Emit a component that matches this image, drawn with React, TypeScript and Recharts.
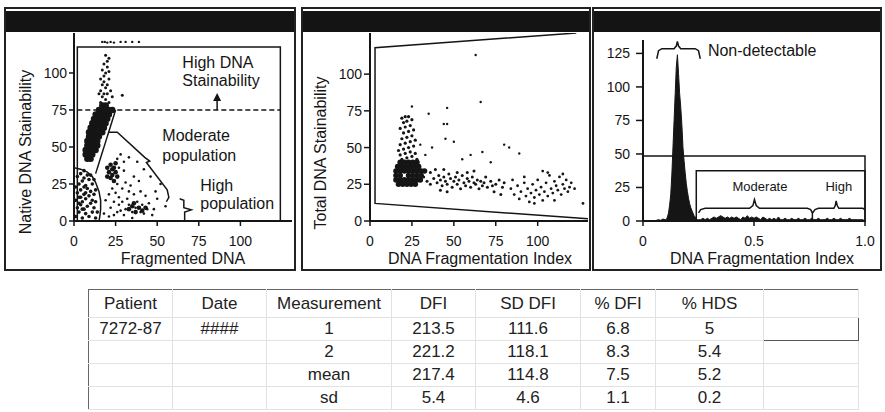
import React from 'react';
import {
  ComposedChart,
  Scatter,
  Line,
  Area,
  XAxis,
  YAxis,
  ReferenceArea,
  ReferenceLine,
  ReferenceDot,
  Label,
} from 'recharts';

type Pt = [number, number];
const toXY = (pts: Pt[]) => pts.map(([x, y]) => ({ x, y }));

const INK = '#151515';
const FONT = '"Liberation Sans", Arial, Helvetica, sans-serif';

// ---- panel 1: native vs fragmented DNA ----
const nativeCore: Pt[] = [
  [8, 42], [10, 42],
  [7, 45], [9, 45], [11, 45],
  [7, 48], [9, 48], [11, 48], [13, 48],
  [8, 51], [10, 51], [12, 51], [14, 51],
  [8, 54], [10, 54], [12, 54], [14, 54],
  [9, 57], [11, 57], [13, 57], [15, 57],
  [9, 60], [11, 60], [13, 60], [15, 60], [17, 60],
  [10, 63], [12, 63], [14, 63], [16, 63], [18, 63],
  [11, 66], [13, 66], [15, 66], [17, 66], [19, 66],
  [12, 69], [14, 69], [16, 69], [18, 69], [20, 69],
  [13, 72], [15, 72], [17, 72], [19, 72], [21, 72],
  [15, 75], [17, 75], [19, 75], [21, 75], [23, 75],
  [17, 78], [19, 78],
];
const nativeColumn: Pt[] = [
  [19, 112], [21, 110], [20, 108], [18, 106], [20, 104], [17, 102], [19, 100], [18, 98],
  [16, 96], [18, 94], [20, 92], [17, 92], [19, 90], [16, 88], [18, 86], [20, 86],
  [17, 84], [19, 82], [16, 80], [21, 96], [22, 88], [21, 101], [29, 85], [21, 80],
  [23, 84], [15, 86], [20, 78],
];
const nativeTop: Pt[] = [
  [17, 121], [18.5, 121], [20, 120.5], [22, 121], [24, 120.5], [28, 121], [31, 121], [35, 121], [39, 121],
];
const nativeLowLeft: Pt[] = [
  [1, 3], [3, 6], [5, 2], [7, 5], [9, 3], [11, 6], [13, 2], [2, 9], [4, 11], [6, 8], [8, 10],
  [10, 12], [12, 9], [1, 14], [3, 16], [5, 13], [7, 15], [9, 17], [11, 14], [2, 19], [4, 21],
  [6, 18], [8, 22], [10, 20], [12, 18], [3, 25], [5, 27], [7, 24], [9, 28], [11, 25], [2, 30],
  [4, 32], [6, 29], [8, 31], [13, 13], [14, 6], [1, 23], [6, 34], [10, 31], [12, 28], [3, 12],
  [5, 8], [7, 19], [13, 21], [4, 16], [6, 23],
];
const nativeMidDense: Pt[] = [
  [20, 36], [22, 38], [24, 36], [21, 33], [23, 31], [25, 33], [22, 29], [24, 27], [26, 30],
  [20, 30], [23, 35], [25, 39], [33, 8], [35, 10], [37, 6], [39, 9], [41, 7], [36, 12], [43, 9],
];
const nativeMid: Pt[] = [
  [27, 36], [26, 25], [23, 22], [25, 19], [21, 18], [27, 16], [29, 22], [31, 26], [33, 20],
  [24, 13], [27, 11], [22, 9], [29, 13], [31, 8], [33, 11], [35, 6], [30, 4], [26, 6], [24, 4],
  [28, 7], [37, 9], [40, 6], [42, 5], [44, 8], [38, 13], [34, 24], [36, 30], [30, 34], [40, 20],
  [45, 12], [48, 8], [50, 15], [52, 25], [38, 40], [33, 43], [28, 45], [46, 30], [42, 35],
  [55, 10], [19, 14], [18, 5], [21, 3], [35, 2], [47, 4], [43, 17], [39, 27], [32, 15], [36, 18],
  [41, 11], [26, 42], [30, 40], [49, 20],
];
const gateLowLeft: Pt[] = [
  [0, 36], [4, 35], [8, 33], [11, 30], [13, 26], [15, 20], [16, 14], [16, 8], [15.5, 3], [15, 0],
];
const gateDiagonal: Pt[] = [[25, 75], [13, 32]];
const braceModerate1: Pt[] = [
  [20.5, 60], [26, 60], [42.5, 43], [45.5, 40.5], [43.5, 39.5], [56, 21], [57, 16], [55.5, 13],
];
const braceHigh1: Pt[] = [[63.5, 15], [66, 14], [66, 9], [70.5, 7.5], [66.5, 6], [66.5, 0]];

// ---- panel 2: total stainability vs DFI ----
const totalCore: Pt[] = [
  [17, 25], [19.5, 25], [22, 25], [24.5, 25], [27, 25],
  [15.5, 28], [18, 28], [20.5, 28], [23, 28], [25.5, 28], [28, 28], [30, 28],
  [15.5, 31], [18, 31], [23, 31], [25.5, 31], [28, 31], [30.5, 31],
  [15.5, 34], [18, 34], [20.5, 34], [23, 34], [25.5, 34], [28, 34], [30.5, 34], [32.5, 34],
  [16.5, 37], [19, 37], [21.5, 37], [24, 37], [26.5, 37], [29, 37],
  [18, 40], [20.5, 40], [23, 40], [25.5, 40], [28, 40],
];
const totalColumn: Pt[] = [
  [19, 42], [22, 43], [25, 44], [18, 45], [21, 46], [24, 47], [27, 46], [20, 49], [23, 50],
  [26, 51], [18, 52], [21, 53], [24, 54], [19, 56], [22, 57], [25, 58], [20, 60], [23, 61],
  [26, 62], [18, 63], [21, 64], [24, 65], [20, 67], [22, 68], [25, 69], [21, 71], [23, 71],
  [19, 70], [27, 55], [17, 48], [28, 42],
];
const totalTail: Pt[] = [
  [32, 30], [34, 27], [36, 33], [38, 29], [40, 26], [41, 31], [42, 28], [43, 24], [44, 30],
  [45, 27], [46, 25], [47, 32], [48, 29], [49, 23], [50, 27], [51, 30], [52, 25], [53, 28],
  [54, 22], [55, 31], [56, 26], [57, 24], [58, 29], [59, 27], [60, 23], [61, 30], [62, 26],
  [63, 25], [64, 28], [65, 22], [66, 27], [67, 24], [68, 26], [70, 23], [72, 27], [73, 24],
  [75, 25], [77, 28], [79, 23], [80, 26], [42, 21], [46, 20], [52, 33], [58, 33], [44, 35],
  [36, 25], [39, 35], [62, 34], [69, 30], [74, 20], [78, 18],
];
const totalRight: Pt[] = [
  [84, 22], [86, 18], [88, 24], [89, 15], [90, 20], [92, 26], [93, 17], [94, 22], [95, 13],
  [96, 19], [97, 25], [98, 16], [99, 21], [100, 28], [101, 18], [102, 23], [103, 14], [104, 20],
  [105, 26], [106, 17], [107, 31], [108, 22], [109, 19], [110, 27], [111, 24], [112, 21],
  [113, 30], [114, 18], [115, 25], [116, 22], [117, 28], [118, 20], [119, 23], [120, 26],
  [106, 33], [110, 14], [98, 12], [122, 22], [127, 12], [115, 32], [92, 30], [85, 28], [103, 34],
];
const totalOutliers: Pt[] = [
  [63, 113], [66, 81], [46, 77], [35, 73], [44, 66], [46, 66], [50, 54], [67, 47], [89, 46],
  [80, 52], [37, 50], [45, 56], [60, 45], [83, 50], [72, 40], [55, 42], [30, 52], [33, 45], [25, 78],
];
const trapezoid: Pt[] = [[130, 1.5], [3, 12], [3, 118], [123, 128]];

// ---- panel 3: DFI histogram ----
const dfiBins: number[] = [
  0, 0.01, 0.02, 0.03, 0.04, 0.05, 0.06, 0.07, 0.08, 0.09, 0.1,
  0.105, 0.11, 0.115, 0.12, 0.125, 0.13, 0.135, 0.14, 0.145, 0.15, 0.155, 0.16, 0.165, 0.17,
  0.175, 0.18, 0.185, 0.19, 0.195, 0.2, 0.205, 0.21, 0.215, 0.22, 0.225, 0.23, 0.235, 0.24,
  0.245, 0.25,
  0.26, 0.27, 0.28, 0.29, 0.3, 0.31, 0.32, 0.33, 0.34, 0.35, 0.36, 0.37, 0.38, 0.39, 0.4,
  0.41, 0.42, 0.43, 0.44, 0.45, 0.46, 0.47, 0.48, 0.49, 0.5, 0.51, 0.52, 0.53, 0.54, 0.55,
  0.56, 0.57, 0.58, 0.59, 0.6, 0.61, 0.62, 0.63, 0.64, 0.65, 0.66, 0.67, 0.68, 0.69, 0.7,
  0.71, 0.72, 0.73, 0.74, 0.75, 0.76, 0.77, 0.78, 0.79, 0.8, 0.81, 0.82, 0.83, 0.84, 0.85,
  0.86, 0.87, 0.88, 0.89, 0.9, 0.91, 0.92, 0.93, 0.94, 0.95, 0.96, 0.97, 0.98, 0.99, 1.0,
];
const dfiCounts: number[] = [
  0, 0, 0, 0, 0, 0, 0.5, 1, 0.5, 1.5, 1,
  1, 3, 6, 12, 20, 35, 55, 75, 95, 115, 124, 110, 95, 85,
  72, 55, 45, 36, 28, 22, 17, 13, 10, 8, 6, 4, 3, 2,
  1, 1,
  1, 2, 1, 2, 1, 2, 3, 2, 3, 4, 3, 2, 3, 2, 3,
  2, 3, 2, 1, 3, 2, 4, 2, 3, 2, 3, 2, 1, 3, 2,
  1, 2, 1, 2, 1, 3, 1, 1, 2, 1, 1, 2, 1, 1, 2,
  1, 1, 2, 1, 1, 2, 1, 1, 2, 1, 1, 1, 2, 1, 1,
  2, 1, 1, 2, 1, 1, 1, 2, 1, 1, 1, 1, 1, 1, 0,
];
const histData = dfiBins.map((x, i) => ({ x, y: dfiCounts[i] }));
const braceNonDet: Pt[] = [
  [0.062, 121], [0.07, 127], [0.085, 128.5], [0.14, 128.5], [0.15, 130.5], [0.155, 134],
  [0.16, 130.5], [0.17, 128.5], [0.235, 128.5], [0.25, 127], [0.258, 121],
];
const braceModerate3: Pt[] = [
  [0.25, 6], [0.26, 8.5], [0.28, 9.5], [0.48, 9.5], [0.495, 11.5], [0.502, 16],
  [0.51, 11.5], [0.525, 9.5], [0.74, 9.5], [0.755, 8.5], [0.763, 6],
];
const braceHigh3: Pt[] = [
  [0.763, 6], [0.775, 8.5], [0.79, 9.5], [0.86, 9.5], [0.866, 11.5], [0.87, 15],
  [0.875, 11.5], [0.882, 9.5], [0.99, 9.5], [1.0, 8.5],
];
const divider3: Pt[] = [[0.763, 0], [0.763, 7]];

const axisTicks = [0, 25, 50, 75, 100];
const histYTicks = [0, 25, 50, 75, 100, 125];
const histXTicks = [0, 0.5, 1];

// ---- table ----
const tableHeader = ['Patient', 'Date', 'Measurement', 'DFI', 'SD DFI', '% DFI', '% HDS', ''];
const patientCol = ['7272-87', '', '', ''];
const dateCol = ['####', '', '', ''];
const measurementCol = ['1', '2', 'mean', 'sd'];
const dfiCol = ['213.5', '221.2', '217.4', '5.4'];
const sdDfiCol = ['111.6', '118.1', '114.8', '4.6'];
const pctDfiCol = ['6.8', '8.3', '7.5', '1.1'];
const pctHdsCol = ['5', '5.4', '5.2', '0.2'];
const colWidths = [84, 94, 125, 84, 105, 75, 108, 95];

const dot = (r: number) => (p: any) => <circle cx={p.cx} cy={p.cy} r={r} fill={INK} />;

const yTitle = (text: string, cx: number, cy: number) => () => (
  <text
    x={cx}
    y={cy}
    transform={`rotate(-90 ${cx} ${cy})`}
    textAnchor="middle"
    dominantBaseline="central"
    fontSize={16}
    fill={INK}
  >
    {text}
  </text>
);
const xTitle = (text: string, cx: number, cy: number) => () => (
  <text x={cx} y={cy} textAnchor="middle" dominantBaseline="central" fontSize={16} fill={INK}>
    {text}
  </text>
);

const note = (x: number, y: number, text: string, center = false, size = 16) => (
  <ReferenceDot
    key={text + x + y}
    x={x}
    y={y}
    r={0.5}
    fill="none"
    stroke="none"
    label={{ value: text, position: center ? 'center' : 'right', offset: 0, fontSize: size, fill: INK }}
  />
);

const lineProps = {
  stroke: INK,
  strokeWidth: 1.5,
  dot: false,
  isAnimationActive: false,
  type: 'linear' as const,
  activeDot: false,
};

function Frame({ left, width }: { left: number; width: number }) {
  return (
    <div
      style={{
        position: 'absolute',
        left,
        top: 7,
        width,
        height: 264,
        border: '2px solid #222',
        boxSizing: 'border-box',
      }}
    >
      <div style={{ marginTop: 2, height: 21, background: '#141414' }} />
    </div>
  );
}

const tickStyle = { fontSize: 14, fill: INK };

function NativePanel() {
  return (
    <div style={{ position: 'absolute', left: 5, top: 8 }}>
      <ComposedChart width={290} height={262} margin={{ top: 25, right: 3, left: 0, bottom: 0 }}>
        <XAxis
          type="number"
          dataKey="x"
          domain={[0, 131]}
          ticks={axisTicks}
          allowDataOverflow
          height={49}
          tick={tickStyle}
          tickSize={5}
          tickMargin={10}
          axisLine={{ stroke: INK, strokeWidth: 2 }}
          tickLine={{ stroke: INK, strokeWidth: 1.5 }}
        >
          <Label content={xTitle('Fragmented DNA', 178, 250)} />
        </XAxis>
        <YAxis
          type="number"
          dataKey="y"
          domain={[0, 127]}
          ticks={axisTicks}
          allowDataOverflow
          width={69}
          tick={tickStyle}
          tickSize={5}
          tickMargin={2}
          axisLine={{ stroke: INK, strokeWidth: 2 }}
          tickLine={{ stroke: INK, strokeWidth: 1.5 }}
        >
          <Label content={yTitle('Native DNA Stainability', 20, 144)} />
        </YAxis>
        <ReferenceArea x1={2} x2={124} y1={0} y2={117.6} fill="none" stroke={INK} strokeWidth={1.5} />
        <ReferenceLine
          segment={[{ x: 2, y: 75 }, { x: 124, y: 75 }]}
          stroke={INK}
          strokeWidth={1.5}
          strokeDasharray="5 3"
        />
        <ReferenceLine segment={[{ x: 86, y: 75 }, { x: 86, y: 82 }]} stroke={INK} strokeWidth={1.5} />
        <ReferenceDot
          x={86}
          y={86.5}
          r={1}
          shape={(p: any) => (
            <polygon
              points={`${p.cx},${p.cy} ${p.cx - 4},${p.cy + 8} ${p.cx + 4},${p.cy + 8}`}
              fill={INK}
            />
          )}
        />
        <Scatter data={toXY(nativeCore)} shape={dot(3.2)} isAnimationActive={false} />
        <Scatter data={toXY(nativeColumn)} shape={dot(1.5)} isAnimationActive={false} />
        <Scatter data={toXY(nativeTop)} shape={dot(1.2)} isAnimationActive={false} />
        <Scatter data={toXY(nativeLowLeft)} shape={dot(1.8)} isAnimationActive={false} />
        <Scatter data={toXY(nativeMidDense)} shape={dot(2.3)} isAnimationActive={false} />
        <Scatter data={toXY(nativeMid)} shape={dot(1.3)} isAnimationActive={false} />
        <Line data={toXY(gateLowLeft)} dataKey="y" {...lineProps} />
        <Line data={toXY(gateDiagonal)} dataKey="y" {...lineProps} />
        <Line data={toXY(braceModerate1)} dataKey="y" {...lineProps} />
        <Line data={toXY(braceHigh1)} dataKey="y" {...lineProps} />
        {note(64.8, 107.4, 'High DNA')}
        {note(64.8, 95.3, 'Stainability')}
        {note(52.8, 58, 'Moderate')}
        {note(52.8, 44.6, 'population')}
        {note(75.6, 24.3, 'High')}
        {note(75.6, 12.2, 'population')}
      </ComposedChart>
    </div>
  );
}

function TotalPanel() {
  return (
    <div style={{ position: 'absolute', left: 302, top: 8 }}>
      <ComposedChart width={288} height={262} margin={{ top: 25, right: 2, left: 0, bottom: 0 }}>
        <XAxis
          type="number"
          dataKey="x"
          domain={[0, 130]}
          ticks={axisTicks}
          allowDataOverflow
          height={49}
          tick={tickStyle}
          tickSize={5}
          tickMargin={10}
          axisLine={{ stroke: INK, strokeWidth: 2 }}
          tickLine={{ stroke: INK, strokeWidth: 1.5 }}
        >
          <Label content={xTitle('DNA Fragmentation Index', 178, 250)} />
        </XAxis>
        <YAxis
          type="number"
          dataKey="y"
          domain={[0, 128]}
          ticks={axisTicks}
          allowDataOverflow
          width={68}
          tick={tickStyle}
          tickSize={6}
          tickMargin={2}
          axisLine={{ stroke: INK, strokeWidth: 2 }}
          tickLine={{ stroke: INK, strokeWidth: 1.5 }}
        >
          <Label content={yTitle('Total DNA Stainability', 18, 145)} />
        </YAxis>
        <Scatter data={toXY(totalCore)} shape={dot(2.8)} isAnimationActive={false} />
        <Scatter data={toXY(totalColumn)} shape={dot(1.6)} isAnimationActive={false} />
        <Scatter data={toXY(totalTail)} shape={dot(1.5)} isAnimationActive={false} />
        <Scatter data={toXY(totalRight)} shape={dot(1.4)} isAnimationActive={false} />
        <Scatter data={toXY(totalOutliers)} shape={dot(1.2)} isAnimationActive={false} />
        <Line data={toXY(trapezoid)} dataKey="y" {...lineProps} />
      </ComposedChart>
    </div>
  );
}

function HistPanel() {
  return (
    <div style={{ position: 'absolute', left: 593, top: 8 }}>
      <ComposedChart width={287} height={262} margin={{ top: 32, right: 15, left: 0, bottom: 0 }}>
        <XAxis
          type="number"
          dataKey="x"
          domain={[0, 1]}
          ticks={histXTicks}
          tickFormatter={(v: number) => (v === 0 ? '0' : v.toFixed(1))}
          allowDataOverflow
          height={49}
          tick={tickStyle}
          tickSize={5}
          tickMargin={10}
          axisLine={{ stroke: INK, strokeWidth: 2 }}
          tickLine={{ stroke: INK, strokeWidth: 1.5 }}
        >
          <Label content={xTitle('DNA Fragmentation Index', 169, 250)} />
        </XAxis>
        <YAxis
          type="number"
          dataKey="y"
          domain={[0, 135]}
          ticks={histYTicks}
          allowDataOverflow
          width={50}
          tick={tickStyle}
          tickSize={7}
          tickMargin={6}
          axisLine={{ stroke: INK, strokeWidth: 2 }}
          tickLine={{ stroke: INK, strokeWidth: 1.5 }}
        />
        <Area
          data={histData}
          dataKey="y"
          type="linear"
          fill={INK}
          fillOpacity={1}
          stroke={INK}
          strokeWidth={1}
          isAnimationActive={false}
          dot={false}
          activeDot={false}
        />
        <ReferenceArea x1={0} x2={1} y1={0} y2={48.4} fill="none" stroke={INK} strokeWidth={1.5} />
        <ReferenceArea x1={0.24} x2={1} y1={0} y2={37.4} fill="none" stroke={INK} strokeWidth={1.5} />
        <Line data={toXY(braceNonDet)} dataKey="y" {...lineProps} />
        <Line data={toXY(braceModerate3)} dataKey="y" {...lineProps} />
        <Line data={toXY(braceHigh3)} dataKey="y" {...lineProps} />
        <Line data={toXY(divider3)} dataKey="y" {...lineProps} />
        {note(0.29, 127.2, 'Non-detectable')}
        {note(0.527, 25.5, 'Moderate', true, 13)}
        {note(0.882, 25.5, 'High', true, 13)}
      </ComposedChart>
    </div>
  );
}

function ResultsTable() {
  const rows = measurementCol.map((_, i) => [
    patientCol[i],
    dateCol[i],
    measurementCol[i],
    dfiCol[i],
    sdDfiCol[i],
    pctDfiCol[i],
    pctHdsCol[i],
  ]);
  const cell: React.CSSProperties = {
    padding: 0,
    textAlign: 'center',
    borderRight: '1px solid #e2e2e2',
    borderBottom: '1px solid #e2e2e2',
    fontWeight: 400,
    whiteSpace: 'nowrap',
  };
  return (
    <table
      style={{
        position: 'absolute',
        left: 88,
        top: 289,
        width: 770,
        borderCollapse: 'collapse',
        tableLayout: 'fixed',
        fontSize: 17,
        color: '#222',
        border: '1.5px solid #666',
        fontFamily: FONT,
      }}
    >
      <colgroup>
        {colWidths.map((w, i) => (
          <col key={i} style={{ width: w }} />
        ))}
      </colgroup>
      <thead>
        <tr style={{ height: 28 }}>
          {tableHeader.map((h, i) => (
            <th key={i} style={cell}>
              {h}
            </th>
          ))}
        </tr>
      </thead>
      <tbody>
        {rows.map((r, i) => (
          <tr key={i} style={{ height: 23 }}>
            {r.map((v, j) => (
              <td key={j} style={cell}>
                {v}
              </td>
            ))}
            <td style={i === 0 ? { ...cell, border: '1.5px solid #555' } : cell} />
          </tr>
        ))}
      </tbody>
    </table>
  );
}

export default function App() {
  return (
    <div
      style={{
        position: 'absolute',
        left: 0,
        top: 0,
        width: 885,
        height: 412,
        background: '#fff',
        fontFamily: FONT,
        overflow: 'hidden',
      }}
    >
      <Frame left={4} width={292} />
      <Frame left={301} width={290} />
      <Frame left={592} width={290} />
      <NativePanel />
      <TotalPanel />
      <HistPanel />
      <ResultsTable />
    </div>
  );
}
